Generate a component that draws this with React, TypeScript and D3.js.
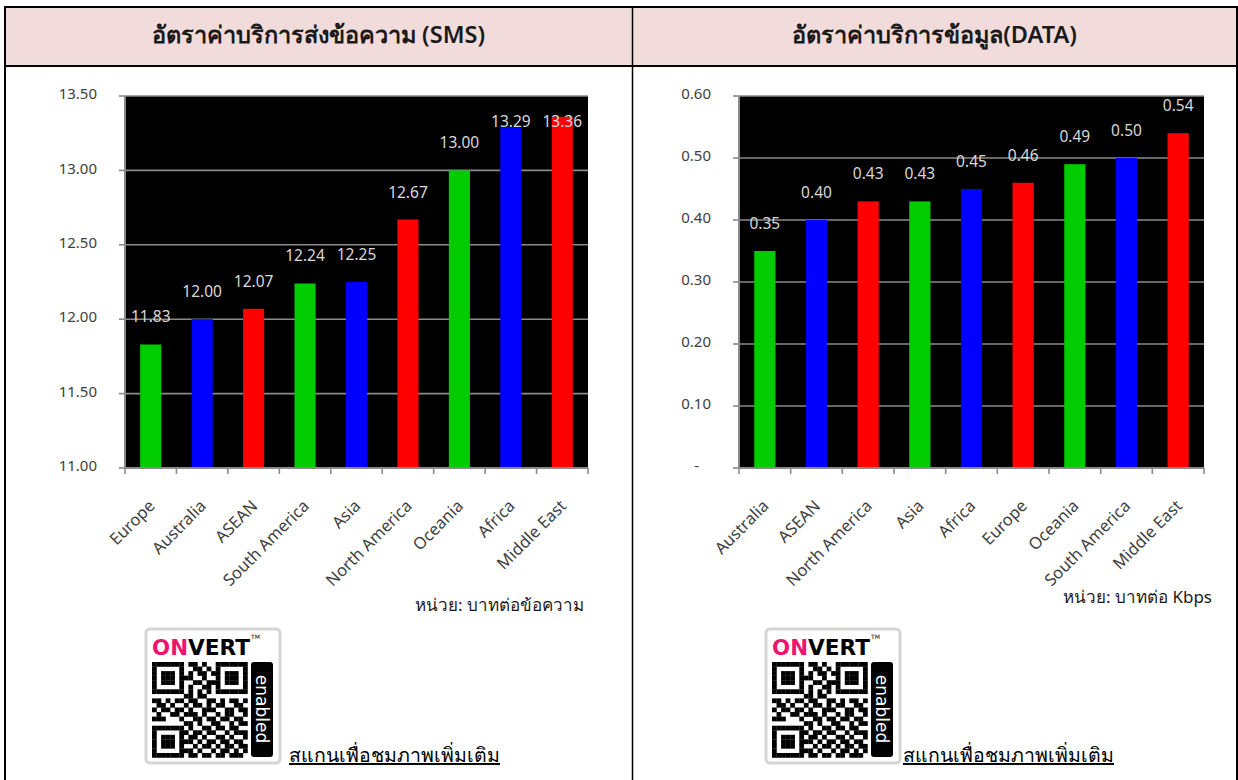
import React from "react";
import * as d3 from "d3";

const smsCategories = ["Europe", "Australia", "ASEAN", "South America", "Asia", "North America", "Oceania", "Africa", "Middle East"];
const smsValues = [11.83, 12.0, 12.07, 12.24, 12.25, 12.67, 13.0, 13.29, 13.36];
const smsTicks = [11.0, 11.5, 12.0, 12.5, 13.0, 13.5];

const dataCategories = ["Australia", "ASEAN", "North America", "Asia", "Africa", "Europe", "Oceania", "South America", "Middle East"];
const dataValues = [0.35, 0.4, 0.43, 0.43, 0.45, 0.46, 0.49, 0.5, 0.54];
const dataTicks = [0, 0.1, 0.2, 0.3, 0.4, 0.5, 0.6];

const barColors = ["#00cc00", "#0000ff", "#ff0000"];

const titleSms = "อัตราค่าบริการส่งข้อความ (SMS)";
const titleData = "อัตราค่าบริการข้อมูล(DATA)";
const unitSms = "หน่วย: บาทต่อข้อความ";
const unitData = "หน่วย: บาทต่อ Kbps";
const scanText = "สแกนเพื่อชมภาพเพิ่มเติม";

const qrRows = [
  "111111101101001111111",
  "100000100110101000001",
  "101110101011011011101",
  "101110111001001011101",
  "101110100110111011101",
  "100000101001101000001",
  "111111101010101111111",
  "000000011011000000000",
  "110101101100110101101",
  "011010010110101100110",
  "101101101001110011011",
  "010011011101001011001",
  "111000100110110110110",
  "000000011010011001011",
  "111111101001101101100",
  "100000110110110010111",
  "101110101101001101001",
  "101110111010110110110",
  "101110100101101011011",
  "100000111010010110101",
  "111111101101101101110",
];

const FONT = "'Noto Sans', 'Open Sans', Tahoma, sans-serif";

type ChartProps = {
  categories: string[];
  values: number[];
  ticks: number[];
  domain: [number, number];
  x0: number;
  x1: number;
  fmt: (v: number) => string;
};

function BarChart({ categories, values, ticks, domain, x0, x1, fmt }: ChartProps) {
  const top = 96;
  const bottom = 468;
  const x = d3.scaleBand<string>().domain(categories).range([x0, x1]).paddingInner(0).paddingOuter(0);
  const y = d3.scaleLinear().domain(domain).range([bottom, top]);
  const step = x.step();
  const bw = step * 0.41;
  const gridColor = "#8a8a8a";
  return (
    <g>
      <rect x={x0} y={top} width={x1 - x0} height={bottom - top} fill="#000" />
      {ticks.map((t) => (
        <g key={"t" + t}>
          {t !== domain[0] && (
            <line x1={x0} x2={x1} y1={y(t)} y2={y(t)} stroke={gridColor} strokeWidth={1.6} />
          )}
          <line x1={x0 - 6} x2={x0} y1={y(t)} y2={y(t)} stroke={gridColor} strokeWidth={1.6} />
          <text
            x={fmt(t) === "-" ? x0 - 40 : x0 - 28}
            y={y(t) - 2}
            dy="0.35em"
            textAnchor="end"
            fontFamily={FONT}
            fontSize={15}
            fill="#404040"
          >
            {fmt(t)}
          </text>
        </g>
      ))}
      {categories.map((c, i) => {
        const cx = (x(c) as number) + step / 2;
        const v = values[i];
        const yt = y(v);
        let by = yt - 22;
        if (by - 12 < top) by = top + 31;
        return (
          <g key={c}>
            <rect x={cx - bw / 2} y={yt} width={bw} height={bottom - yt} fill={barColors[i % 3]} />
            <text x={cx} y={by} textAnchor="middle" fontFamily={FONT} fontSize={15.5} fill="#d9d9d9">
              {fmt(v)}
            </text>
            <text
              x={cx + 5}
              y={507}
              textAnchor="end"
              fontFamily={FONT}
              fontSize={16.5}
              fill="#404040"
              transform={`rotate(-45, ${cx + 5}, 507)`}
            >
              {c}
            </text>
          </g>
        );
      })}
      {d3.range(categories.length + 1).map((i) => (
        <line
          key={"xt" + i}
          x1={x0 + i * step}
          x2={x0 + i * step}
          y1={bottom}
          y2={bottom + 6}
          stroke={gridColor}
          strokeWidth={1.6}
        />
      ))}
      <line x1={x0} x2={x0} y1={top} y2={bottom} stroke={gridColor} strokeWidth={2} />
      <line x1={x0} x2={x1} y1={bottom} y2={bottom} stroke={gridColor} strokeWidth={2} />
    </g>
  );
}

function QrBadge({ x, y }: { x: number; y: number }) {
  const m = 4.55;
  const qx = x + 7;
  const qy = y + 34;
  return (
    <g>
      <rect x={x + 1} y={y + 1} width={134} height={134} rx={4} fill="#fff" stroke="#d5d5d8" strokeWidth={3} />
      <text x={x + 7} y={y + 27} fontFamily="'DejaVu Sans', sans-serif" fontWeight={900} fontSize={22} fill="#f0146e" textLength={36} lengthAdjust="spacingAndGlyphs">
        ON
      </text>
      <text x={x + 43} y={y + 27} fontFamily="'DejaVu Sans', sans-serif" fontWeight={900} fontSize={22} fill="#000" textLength={62} lengthAdjust="spacingAndGlyphs">
        VERT
      </text>
      <text x={x + 106} y={y + 11} fontFamily="'DejaVu Sans', sans-serif" fontSize={6} fill="#000">
        TM
      </text>
      {qrRows.map((row, r) =>
        row.split("").map((ch, c) =>
          ch === "1" ? (
            <rect key={r + "-" + c} x={qx + c * m} y={qy + r * m} width={m + 0.2} height={m + 0.2} fill="#000" />
          ) : null
        )
      )}
      <rect x={x + 106} y={y + 34} width={22} height={95} rx={3} fill="#000" />
      <text
        x={x + 117}
        y={y + 81}
        textAnchor="middle"
        dy="0.35em"
        fontFamily="'DejaVu Sans', sans-serif"
        fontSize={17}
        fill="#fff"
        transform={`rotate(90, ${x + 117}, ${y + 81})`}
      >
        enabled
      </text>
    </g>
  );
}

export default function App() {
  return (
    <svg
      width={1238}
      height={780}
      style={{ position: "absolute", left: 0, top: 0, background: "#fff" }}
    >
      <rect x={5} y={7} width={1232} height={59} fill="#f2dcdb" />
      <line x1={5} x2={5} y1={6} y2={780} stroke="#000" strokeWidth={2} />
      <line x1={4} x2={1238} y1={7} y2={7} stroke="#000" strokeWidth={2} />
      <line x1={1237} x2={1237} y1={6} y2={780} stroke="#000" strokeWidth={2} />
      <line x1={632.5} x2={632.5} y1={6} y2={780} stroke="#000" strokeWidth={1.5} />
      <line x1={4} x2={1238} y1={66} y2={66} stroke="#000" strokeWidth={2} />
      <text x={318.5} y={43} textAnchor="middle" fontFamily={FONT} fontSize={23.5} fontWeight={600} fill="#1a1a1a">
        {titleSms}
      </text>
      <text x={934.5} y={43} textAnchor="middle" fontFamily={FONT} fontSize={23.5} fontWeight={600} fill="#1a1a1a">
        {titleData}
      </text>

      <BarChart
        categories={smsCategories}
        values={smsValues}
        ticks={smsTicks}
        domain={[11, 13.5]}
        x0={125}
        x1={588}
        fmt={(v) => d3.format(".2f")(v)}
      />
      <BarChart
        categories={dataCategories}
        values={dataValues}
        ticks={dataTicks}
        domain={[0, 0.6]}
        x0={739}
        x1={1204}
        fmt={(v) => (v === 0 ? "-" : d3.format(".2f")(v))}
      />

      <text x={584} y={611} textAnchor="end" fontFamily={FONT} fontSize={17} fill="#1a1a1a">
        {unitSms}
      </text>
      <text x={1212} y={603} textAnchor="end" fontFamily={FONT} fontSize={17} fill="#1a1a1a">
        {unitData}
      </text>

      <QrBadge x={145} y={628} />
      <QrBadge x={765} y={628} />
      <text x={289} y={762} fontFamily={FONT} fontSize={19.5} fill="#000" textDecoration="underline">
        {scanText}
      </text>
      <text x={903} y={762} fontFamily={FONT} fontSize={19.5} fill="#000" textDecoration="underline">
        {scanText}
      </text>
    </svg>
  );
}
